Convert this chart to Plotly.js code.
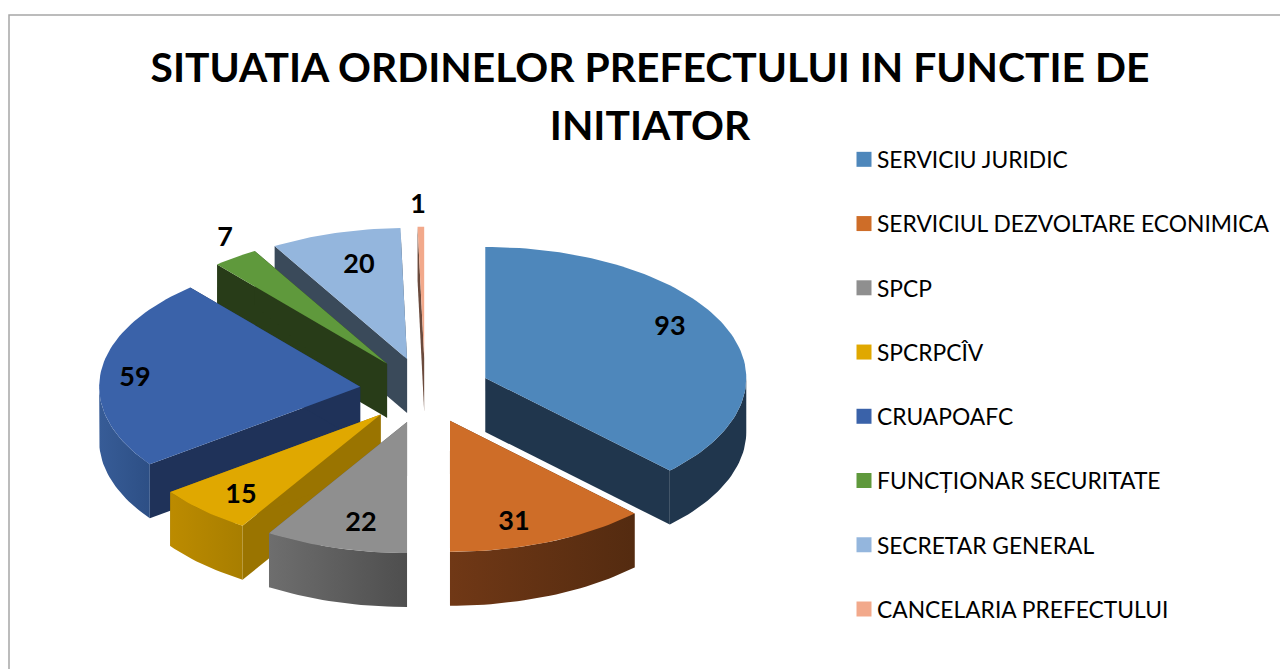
<!DOCTYPE html>
<html>
<head>
<meta charset="utf-8">
<script src="https://cdn.plot.ly/plotly-3.0.1.min.js"></script>
<style>html,body{margin:0;padding:0;background:#fff;overflow:hidden}#chart{width:1280px;height:669px}</style>
</head>
<body>
<div id="chart"></div>
<script>
// ---- data ----
const categories = ["SERVICIU JURIDIC","SERVICIUL DEZVOLTARE ECONIMICA","SPCP","SPCRPCÎV","CRUAPOAFC","FUNCȚIONAR SECURITATE","SECRETAR GENERAL","CANCELARIA PREFECTULUI"];
const values = [93,31,22,15,59,7,20,1];
const chartTitle = "SITUATIA ORDINELOR PREFECTULUI IN FUNCTIE DE<br>INITIATOR";

// ---- styles ----
const topColors   = ["#4E87BB","#CE6D28","#8F8F8F","#E0A800","#3A62A9","#5F993C","#94B6DD","#F2A98B"];
const cutColors   = ["#20364D","#54290F","#5A5A5A","#9A7400","#1F3259","#283C18","#3A4A5A","#6B4A3C"];
const wallLeft    = ["#20364D","#703816","#6E6E6E","#BC8B00","#375C97","#3F6628","#5F7FA0","#A07050"];
const wallRight   = ["#20364D","#542B10","#4E4E4E","#A87E00","#2D4F85","#3F6628","#5F7FA0","#A07050"];
const drawOrder   = [6,7,5,4,3,2,1,0];
const labelAt     = [[670,328],[514,523],[361,524],[241,496],[135,379],[225,239],[359,266],[418,206]];

// ---- projected pie geometry (axis units equal pixels) ----
const cx = 425, cy = 390.5, rx = 261, ry = 131, depth = 54, explode = 0.25;
const total = values.reduce((a,b)=>a+b,0);
const rad = d => d*Math.PI/180;
let running = 0;
const slices = values.map(v => {
  const a0 = running/total*360; running += v; const a1 = running/total*360;
  const mid = (a0+a1)/2;
  const ax = cx + explode*rx*Math.sin(rad(mid));
  const ay = cy - explode*ry*Math.cos(rad(mid));
  return {a0,a1,ax,ay};
});
const rim = (s,a) => [s.ax + rx*Math.sin(rad(a)), s.ay - ry*Math.cos(rad(a))];
const arc = (s,a0,a1) => {
  const pts=[]; const n=Math.max(2,Math.ceil((a1-a0)/1.5));
  for(let i=0;i<=n;i++) pts.push(rim(s,a0+(a1-a0)*i/n));
  return pts;
};
const poly = (pts,extra) => Object.assign({
  type:"scatter",mode:"lines",fill:"toself",
  x:pts.map(p=>p[0]).concat(pts[0][0]),
  y:pts.map(p=>p[1]).concat(pts[0][1]),
  line:{width:0},hoverinfo:"skip",showlegend:false
},extra);

const traces=[];
drawOrder.forEach(i=>{
  const s=slices[i];
  // cut faces
  [s.a0,s.a1].forEach(a=>{
    const r=rim(s,a);
    traces.push(poly([[s.ax,s.ay],r,[r[0],r[1]+depth],[s.ax,s.ay+depth]],{fillcolor:cutColors[i]}));
  });
  // outer wall: only the part that faces the viewer
  const w0=Math.max(s.a0,90), w1=Math.min(s.a1,270);
  if(w1>w0){
    const a=arc(s,w0,w1);
    const pts=a.concat(a.slice().reverse().map(p=>[p[0],p[1]+depth]));
    const xs=pts.map(p=>p[0]);
    traces.push(poly(pts,{
      fillcolor:wallLeft[i],
      fillgradient:{type:"horizontal",start:Math.min(...xs),stop:Math.max(...xs),
        colorscale:[[0,wallLeft[i]],[1,wallRight[i]]]}
    }));
  }
  // top face
  traces.push(poly([[s.ax,s.ay]].concat(arc(s,s.a0,s.a1)),{
    fillcolor:topColors[i],name:categories[i],
    text:categories[i]+": "+values[i],hoverinfo:"text",hoveron:"fills"
  }));
});

// value labels
traces.push({
  type:"scatter",mode:"text",
  x:labelAt.map(p=>p[0]),y:labelAt.map(p=>p[1]),
  text:values.map(String),textposition:"middle center",
  textfont:{family:"Lato, sans-serif",size:27,color:"#000",weight:700},
  hoverinfo:"skip",showlegend:false
});

// legend entries
categories.forEach((c,i)=>traces.push({
  type:"scatter",mode:"markers",x:[null],y:[null],name:c,legendgroup:"g"+i,
  marker:{symbol:"square",size:15,color:topColors[i]},showlegend:true,hoverinfo:"skip"
}));

const layout={
  width:1280,height:669,margin:{l:0,r:0,t:0,b:0,pad:0,autoexpand:false},
  paper_bgcolor:"#fff",plot_bgcolor:"#fff",
  xaxis:{range:[0,1280],visible:false,fixedrange:true},
  yaxis:{range:[669,0],visible:false,fixedrange:true},
  title:{
    text:'<span style="font-size:40.8px">'+chartTitle.replace('<br>','</span><br><span style="font-size:40.8px">')+'</span>',
    font:{family:"Lato, sans-serif",size:45,color:"#000",weight:700},
    x:650/1280,xanchor:"center",xref:"paper",
    y:1-81.5/669,yanchor:"top",yref:"paper"
  },
  legend:{
    x:837/1280,xanchor:"left",y:1-138/669,yanchor:"top",
    font:{family:"Lato, sans-serif",size:22.8,color:"#000"},
    tracegroupgap:31.6,bgcolor:"rgba(0,0,0,0)",itemclick:false,itemdoubleclick:false
  },
  shapes:[{type:"rect",xref:"x",yref:"y",x0:9,y0:15,x1:1300,y1:700,line:{color:"#A6A6A6",width:1.5},fillcolor:"rgba(0,0,0,0)",layer:"below"}],
  showlegend:true
};
Plotly.newPlot("chart",traces,layout,{displayModeBar:false,responsive:false}).then(gd=>{
  // tuck the legend swatches closer to their labels
  gd.querySelectorAll(".legend .layers").forEach(g=>{
    g.setAttribute("transform","translate(7,0)");
  });
});
</script>
</body>
</html>
